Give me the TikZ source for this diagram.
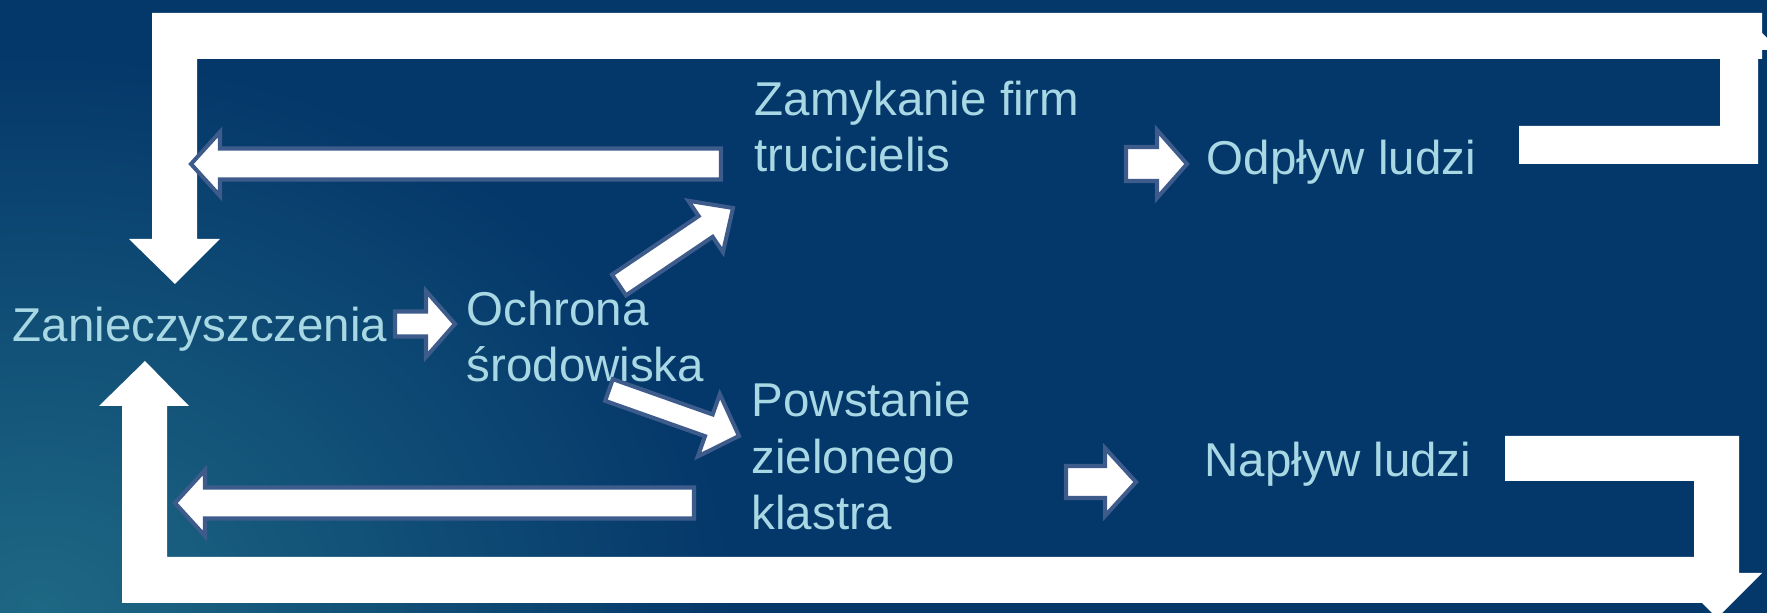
\documentclass[tikz,border=0pt]{standalone}
\usepackage{fontspec}
\setmainfont{Liberation Sans}
\usetikzlibrary{calc}

\definecolor{tlo}{RGB}{4,55,106}
\definecolor{morze}{RGB}{30,104,132}
\definecolor{napis}{RGB}{168,216,228}
\definecolor{ramka}{RGB}{61,92,140}

\tikzset{
  napis/.style={text=napis, inner sep=0pt, anchor=base west, align=left,
    font=\fontsize{13.5pt}{16.2pt}\selectfont},
  blok/.style={fill=white, draw=ramka, line width=1.15pt, line join=miter},
  pas/.style={fill=white}
}

% strzalka blokowa: #1 ogon, #2 grot, #3 pol szerokosci trzonu, #4 pol szerokosci grotu, #5 dlugosc grotu
\newcommand{\blokstrzalka}[5]{%
  \coordinate (#1-h) at ($(#2)!#5!(#1)$);
  \filldraw[blok] ($(#1)!#3!90:(#2)$) -- ($(#1-h)!#3!90:(#2)$) -- ($(#1-h)!#4!90:(#2)$) -- (#2)
    -- ($(#1-h)!#4!-90:(#2)$) -- ($(#1-h)!#3!-90:(#2)$) -- ($(#1)!#3!-90:(#2)$) -- cycle;
}

\begin{document}
\begin{tikzpicture}[x=0.01cm, y=-0.01cm]
  \useasboundingbox (0,0) rectangle (1767,613);
  \clip (0,0) rectangle (1767,613);

  % tlo
  \fill[tlo] (0,0) rectangle (1767,613);
  \shade[inner color=morze, outer color=tlo] (40,610) ellipse [x radius=700, y radius=560];

  % napisy (kotwica base = ostatni wiersz)
  \node[napis] (zan) at (12,342) {Zanieczyszczenia};
  \node[napis] (och) at (466,382) {Ochrona\\środowiska};
  \node[napis] (zam) at (754,172) {Zamykanie firm\\trucicielis};
  \node[napis] (odp) at (1206,175) {Odpływ ludzi};
  \node[napis] (pow) at (751,530) {Powstanie\\zielonego\\klastra};
  \node[napis] (nap) at (1204,477) {Napływ ludzi};

  % petla gorna
  \fill[pas] (152,13) -- (1762,13) -- (1762,59) -- (197,59) -- (197,239) -- (220,239)
    -- (175,284) -- (129,239) -- (152,239) -- cycle;
  \fill[pas] (1762,33) -- (1767,38) -- (1767,50) -- (1762,50) -- cycle;
  \fill[pas] (1519,126) -- (1720,126) -- (1720,59) -- (1758,59) -- (1758,164) -- (1519,164) -- cycle;

  % petla dolna
  \fill[pas] (122,603) -- (122,406) -- (99,406) -- (145,361) -- (189,406) -- (167,406)
    -- (167,557) -- (1710,557) -- (1710,603) -- cycle;
  \fill[pas] (1505,436) -- (1739,436) -- (1739,573) -- (1762,573) -- (1717,618)
    -- (1672,573) -- (1694,573) -- (1694,481) -- (1505,481) -- cycle;

  % male strzalki
  \coordinate (zanT) at (395,324);  \coordinate (zanP) at (455,324);
  \coordinate (ochG) at (619,285);  \coordinate (zamP) at (733,208);
  \coordinate (ochD) at (609,390);  \coordinate (powP) at (739,436);
  \coordinate (zamT) at (721,164);  \coordinate (zamL) at (191,164);
  \coordinate (powT) at (694,503);  \coordinate (powL) at (175,503);
  \coordinate (odpT) at (1126,164); \coordinate (odpP) at (1187,164);
  \coordinate (napT) at (1066,482); \coordinate (napP) at (1136,482);

  \blokstrzalka{zanT}{zanP}{1.25mm}{3.3mm}{2.9mm}
  \blokstrzalka{ochG}{zamP}{1.25mm}{3.1mm}{3.3mm}
  \blokstrzalka{ochD}{powP}{1.15mm}{3.3mm}{3.2mm}
  \blokstrzalka{zamT}{zamL}{1.55mm}{3.2mm}{2.9mm}
  \blokstrzalka{powT}{powL}{1.55mm}{3.3mm}{3.0mm}
  \blokstrzalka{odpT}{odpP}{1.7mm}{3.4mm}{3.0mm}
  \blokstrzalka{napT}{napP}{1.6mm}{3.4mm}{3.1mm}
\end{tikzpicture}
\end{document}
